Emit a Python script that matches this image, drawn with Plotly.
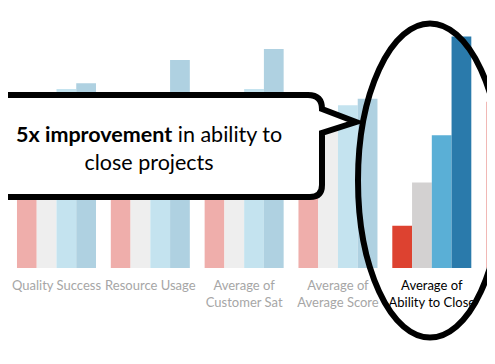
import plotly.graph_objects as go

# ---------------- data ----------------
categories = ["Schedule Success", "Quality Success", "Resource Usage",
              "Average of Customer Sat", "Average of Average Score",
              "Average of Ability to Close", "Average of Overall Score"]
tick_labels = ["Schedule Success", "Quality Success", "Resource Usage",
               "Average of<br>Customer Sat", "Average of<br>Average Score",
               "Average of<br>Ability to Close", "Average of<br>Overall Score"]
series_names = ["Baseline", "Phase 1", "Phase 2", "Phase 3"]
baseline = [3.3, 3.0, 2.9, 3.1, 3.3, 1.00, 3.93]
phase1   = [3.6, 3.4, 3.3, 3.5, 3.6, 2.02, 3.50]
phase2   = [3.8, 4.23, 3.7, 4.23, 3.85, 3.14, 4.00]
phase3   = [4.0, 4.37, 4.92, 5.18, 4.00, 5.47, 4.50]
highlight_index = 5

strong_colors = ["#dd4230", "#d3d1d1", "#5aafd6", "#2a7aab"]
faded_colors  = ["#efaeab", "#eeeeee", "#c4e3ef", "#afd1e1"]
label_colors = ["#a6a6a6"] * 5 + ["#000000", "#f3dfcc"]

# ---------------- figure ----------------
OFF = 8                      # page body margin offset
W, H = 495 - OFF, 364 - OFF  # figure size so the page fits the window
BASE = 268 - OFF             # figure pixel row of the bar baseline
UNIT = 42.3                  # pixels per value unit

fig = go.Figure()
for name, vals, sc, fc in zip(series_names, [baseline, phase1, phase2, phase3],
                              strong_colors, faded_colors):
    cols = [sc if i == highlight_index else fc for i in range(len(categories))]
    fig.add_trace(go.Bar(x=list(range(len(categories))), y=vals, name=name,
                         marker=dict(color=cols, line=dict(width=0))))

ticktext = []
for lab, c in zip(tick_labels, label_colors):
    ticktext.append("<br>".join(f"<span style='color:{c}'>{p}</span>" for p in lab.split("<br>")))

x0 = 0.398 + OFF / 93.83
fig.update_layout(
    width=W, height=H,
    margin=dict(l=0, r=0, t=0, b=H - BASE, pad=0, autoexpand=False),
    barmode="group", bargap=0.158, bargroupgap=0,
    plot_bgcolor="white", paper_bgcolor="white",
    showlegend=False,
    font=dict(family="Lato", size=13, color="#a6a6a6"),
    xaxis=dict(range=[x0, x0 + W / 93.83], tickvals=list(range(len(categories))),
               ticktext=ticktext, showgrid=False, zeroline=False, showline=False,
               ticks="", ticklabelstandoff=8, tickfont=dict(size=13),
               automargin=False),
    yaxis=dict(range=[0, BASE / UNIT], visible=False, showgrid=False, zeroline=False,
               automargin=False),
)

def X(px):
    return (px - OFF) / W

def Y(py):
    return (BASE - (py - OFF)) / BASE

# callout bubble
pts = [("M", -10, 95), ("L", 308, 95), ("Q", 322, 95, 322, 109), ("L", 356, 122),
       ("L", 322, 133), ("L", 322, 185), ("Q", 322, 197, 310, 197), ("L", -10, 197)]
path = ""
for p in pts:
    cmd = p[0]
    coords = p[1:]
    parts = []
    for i in range(0, len(coords), 2):
        parts.append(f"{X(coords[i]):.5f},{Y(coords[i+1]):.5f}")
    path += cmd + " " + " ".join(parts) + " "
path += "Z"
fig.add_shape(type="path", path=path, xref="paper", yref="paper",
              fillcolor="white", line=dict(color="black", width=6), layer="above")

fig.add_annotation(x=X(149), y=Y(148), xref="paper", yref="paper",
                   text="<b>5x improvement</b> in ability to<br>close projects",
                   showarrow=False, font=dict(family="Lato", size=21.5, color="black"),
                   xanchor="center", yanchor="middle")

# ellipse around highlighted category
fig.add_shape(type="circle", xref="paper", yref="paper",
              x0=X(358), x1=X(502), y0=Y(337.5), y1=Y(23.5),
              line=dict(color="black", width=6), fillcolor="rgba(0,0,0,0)", layer="above")

fig.write_html("out.html")
